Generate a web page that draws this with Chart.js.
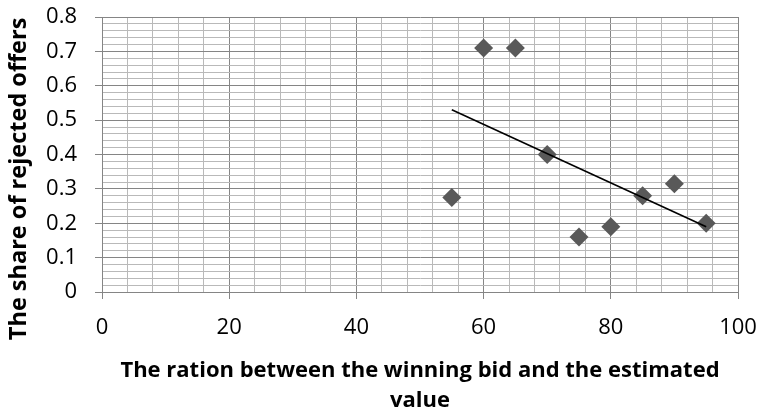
<!DOCTYPE html>
<html lang="en">
<head>
    <meta charset="UTF-8">
    <title>Rejected offers vs winning bid ratio</title>
    <script src="https://cdn.jsdelivr.net/npm/chart.js"></script>
    <style>
        body {
            margin: 0;
            padding: 0;
            background-color: #fff;
        }
        #wrap {
            width: 761px;
            height: 411px;
        }
    </style>
</head>
<body>
<div id="wrap"><canvas id="chart" width="761" height="411"></canvas></div>
<script>
// ratio between winning bid and estimated value (%)
const ratios = [55, 60, 65, 70, 75, 80, 85, 90, 95];
// share of rejected offers
const rejectedShare = [0.275, 0.71, 0.71, 0.40, 0.16, 0.19, 0.28, 0.315, 0.20];

const xTickLabels = [0, 20, 40, 60, 80, 100];
const yTickLabels = [0, 0.1, 0.2, 0.3, 0.4, 0.5, 0.6, 0.7, 0.8];

// linear trendline (least squares), like Excel's
function trend(xs, ys) {
    const n = xs.length;
    const mx = xs.reduce((a, b) => a + b, 0) / n;
    const my = ys.reduce((a, b) => a + b, 0) / n;
    let sxy = 0, sxx = 0;
    xs.forEach((x, i) => {
        sxy += (x - mx) * (ys[i] - my);
        sxx += (x - mx) * (x - mx);
    });
    const slope = sxy / sxx;
    const x0 = Math.min(...xs), x1 = Math.max(...xs);
    return [
        {x: x0, y: my + slope * (x0 - mx)},
        {x: x1, y: my + slope * (x1 - mx)}
    ];
}

const isMajor = (v, list) => list.some(t => Math.abs(t - v) < 1e-6);

const tickFont = {family: "'Open Sans', sans-serif", size: 22};
const majorGrid = '#858585';
const minorGrid = '#b9b9b9';

new Chart(document.getElementById('chart'), {
    type: 'scatter',
    data: {
        datasets: [
            {
                label: 'Trend',
                type: 'line',
                data: trend(ratios, rejectedShare),
                borderColor: '#000',
                borderWidth: 1.6,
                pointRadius: 0,
                fill: false
            },
            {
                label: 'Share',
                data: ratios.map((x, i) => ({x: x, y: rejectedShare[i]})),
                pointStyle: 'rectRot',
                pointRadius: 9.5,
                pointHoverRadius: 9.5,
                backgroundColor: '#595959',
                borderWidth: 0
            }
        ]
    },
    options: {
        responsive: false,
        animation: false,
        layout: {padding: {top: 17, right: 23, left: 0, bottom: 0}},
        plugins: {
            legend: {display: false},
            tooltip: {enabled: false}
        },
        scales: {
            x: {
                type: 'linear',
                min: 0,
                max: 100,
                afterFit: s => {
                    s.height = 119;
                    s.paddingLeft = 0;
                    s.paddingRight = 0;
                },
                ticks: {
                    stepSize: 4,
                    autoSkip: false,
                    maxRotation: 0,
                    padding: 16,
                    color: '#000',
                    font: tickFont,
                    callback: v => isMajor(v, xTickLabels) ? String(v) : ''
                },
                grid: {
                    color: c => isMajor(c.tick.value, xTickLabels) ? majorGrid : minorGrid,
                    tickColor: c => isMajor(c.tick.value, xTickLabels) ? majorGrid : 'rgba(0,0,0,0)',
                    tickLength: 7,
                    lineWidth: 1
                },
                border: {color: majorGrid},
                title: {
                    display: true,
                    text: ['The ration between the winning bid and the estimated', 'value'],
                    color: '#000',
                    font: {family: "'Open Sans', sans-serif", size: 22, weight: 'bold', lineHeight: 1.36},
                    padding: {top: 0, bottom: -5}
                }
            },
            y: {
                min: 0,
                max: 0.8,
                afterFit: s => {
                    s.width = 102;
                    s.paddingTop = 0;
                    s.paddingBottom = 0;
                },
                ticks: {
                    stepSize: 0.02,
                    autoSkip: false,
                    padding: 18,
                    color: '#000',
                    font: tickFont,
                    callback: v => isMajor(v, yTickLabels) ? String(Math.round(v * 10) / 10) : ''
                },
                grid: {
                    color: c => isMajor(c.tick.value, yTickLabels) ? majorGrid : minorGrid,
                    tickColor: c => isMajor(c.tick.value, yTickLabels) ? majorGrid : 'rgba(0,0,0,0)',
                    tickLength: 7,
                    lineWidth: 1
                },
                border: {color: majorGrid},
                title: {
                    display: true,
                    // trailing spaces push the text down, as in the original
                    text: 'The share of rejected offers        ',
                    color: '#000',
                    font: {family: "'Open Sans', sans-serif", size: 23.5, weight: 'bold', lineHeight: 1.2},
                    padding: {top: 5, bottom: 0}
                }
            }
        }
    }
});
</script>
</body>
</html>
